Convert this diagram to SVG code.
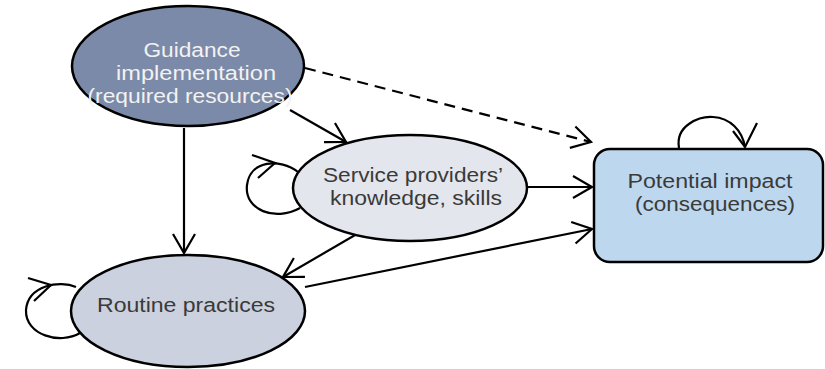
<svg xmlns="http://www.w3.org/2000/svg" width="825" height="369" viewBox="0 0 825 369">
  <defs>
    <marker id="vhead" markerUnits="userSpaceOnUse" markerWidth="26" markerHeight="28" refX="22" refY="14" orient="auto">
      <path d="M3,3 L22,14 L3,25" fill="none" stroke="#000" stroke-width="2.2"/>
    </marker>
    <style>
      .node { stroke: #000; stroke-width: 2.5; }
      .label { font-family: "Liberation Sans", Arial, sans-serif; font-size: 20px; text-anchor: middle; fill: #3a3a3a; }
      .light { fill: #f2f2f2; }
      .edge { fill: none; stroke: #000; stroke-width: 2.2; marker-end: url(#vhead); }
      .dashed { stroke-dasharray: 11 7; }
      .loop { fill: none; stroke: #000; stroke-width: 2.2; }
    </style>
  </defs>

  <g id="connectors">
    <line class="edge" x1="184" y1="128" x2="184" y2="253"/>
    <line class="edge" x1="290" y1="110" x2="346" y2="142"/>
    <line class="edge dashed" x1="305" y1="68" x2="591" y2="142"/>
    <line class="edge" x1="527" y1="187" x2="592" y2="187"/>
    <line class="edge" x1="305" y1="287" x2="592" y2="229"/>
    <line class="edge" x1="362" y1="231" x2="283" y2="277"/>
    <!-- self loops -->
    <path class="loop" d="M298,172 C280,158 250,160 247,185 C244,210 275,222 300,208"/>
    <path class="loop" d="M252,155 L275,163 L258,178"/>
    <path class="loop" d="M76,287 C60,280 28,285 26,310 C25,335 60,345 80,333"/>
    <path class="loop" d="M28,278 L51,285 L34,301"/>
    <path class="loop" d="M679,148 C675,125 700,116 713,117 C730,118 742,130 745,147"/>
    <path class="loop" d="M733,131 L745,147 L757,123"/>
  </g>

  <g id="guidance">
    <ellipse class="node" cx="188" cy="66" rx="116" ry="60" fill="#7b8aa8"/>
    <text class="label light" x="192" y="57" textLength="97" lengthAdjust="spacingAndGlyphs">Guidance</text>
    <text class="label light" x="196" y="80" textLength="160" lengthAdjust="spacingAndGlyphs">implementation</text>
    <text class="label light" x="190" y="103" textLength="205" lengthAdjust="spacingAndGlyphs">(required resources)</text>
  </g>

  <g id="service">
    <ellipse class="node" cx="410" cy="188" rx="117" ry="53" fill="#e3e6ec"/>
    <text class="label" x="413" y="182" textLength="180" lengthAdjust="spacingAndGlyphs">Service providers’</text>
    <text class="label" x="416" y="205" textLength="172" lengthAdjust="spacingAndGlyphs">knowledge, skills</text>
  </g>

  <g id="routine">
    <ellipse class="node" cx="188" cy="311" rx="117" ry="56" fill="#cbd1de"/>
    <text class="label" x="186" y="312" textLength="178" lengthAdjust="spacingAndGlyphs">Routine practices</text>
  </g>

  <g id="impact">
    <rect class="node" x="594" y="149" width="229" height="113" rx="16" fill="#bdd7ee"/>
    <text class="label" x="710" y="188" textLength="165" lengthAdjust="spacingAndGlyphs">Potential impact</text>
    <text class="label" x="715" y="211" textLength="160" lengthAdjust="spacingAndGlyphs">(consequences)</text>
  </g>
</svg>
